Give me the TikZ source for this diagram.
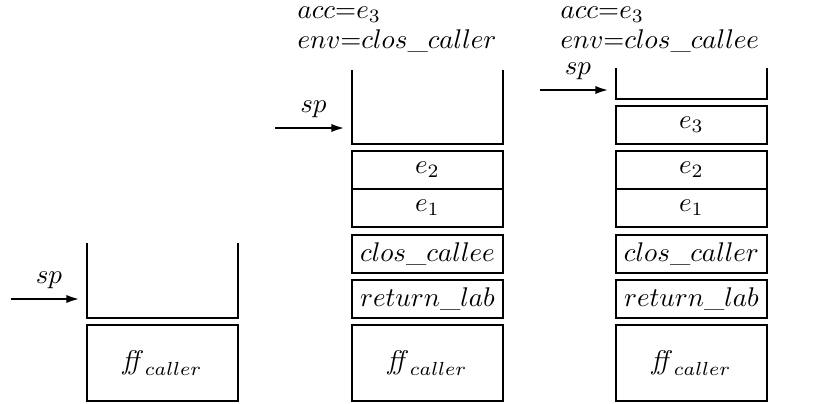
\documentclass[tikz,border=0pt]{standalone}
\usepackage{amsmath}
\usetikzlibrary{arrows.meta}

\begin{document}
\begin{tikzpicture}[
  x=0.37pt,
  y=-0.37pt,
  every node/.style={font=\normalsize},
  slot/.style={
    draw,
    line width=0.9pt,
    inner sep=0pt,
    outer sep=0pt,
    minimum width=55.9pt,
    minimum height=14.06pt
  },
  frame/.style={slot, minimum height=28.1pt},
  hole/.style={
    inner sep=0pt,
    outer sep=0pt,
    minimum width=55.9pt
  },
  wall/.style={line width=0.9pt},
  ptr/.style={line width=0.9pt, -{Latex[length=5pt,width=3pt]}, shorten >=2.6pt},
  regtext/.style={anchor=west}
]
  \useasboundingbox (0,0) rectangle (837,404);

  % first stack
  \node[hole, minimum height=27.75pt] (o1) at (162.5,280.5) {};
  \node[frame] (ff1) at (162.5,363) {$\mathit{ff}_{caller}$};
  \draw[wall] (o1.north west) -- (o1.south west) -- (o1.south east) -- (o1.north east);
  \coordinate (p1) at (11,299);
  \draw[ptr] (p1) -- (p1 -| o1.west) node[midway, above] {$sp$};

  % second stack
  \node[regtext] (acc2) at (288,15) {$acc{=}e_3$};
  \node[regtext] (env2) at (288,41) {$env{=}clos\_caller$};
  \node[hole, minimum height=27.4pt] (o2) at (427.5,107) {};
  \node[slot] (e22) at (427.5,170) {$e_2$};
  \node[slot] (e12) at (427.5,208) {$e_1$};
  \node[slot] (clos2) at (427.5,254) {$clos\_callee$};
  \node[slot] (ret2) at (427.5,299) {$return\_lab$};
  \node[frame] (ff2) at (427.5,363) {$\mathit{ff}_{caller}$};
  \draw[wall] (o2.north west) -- (o2.south west) -- (o2.south east) -- (o2.north east);
  \coordinate (p2) at (275,128);
  \draw[ptr] (p2) -- (p2 -| o2.west) node[midway, above] {$sp$};

  % third stack
  \node[regtext] (acc3) at (551,15) {$acc{=}e_3$};
  \node[regtext] (env3) at (551,41) {$env{=}clos\_callee$};
  \node[hole, minimum height=11.5pt] (o3) at (691.5,83.5) {};
  \node[slot] (e33) at (691.5,125) {$e_3$};
  \node[slot] (e23) at (691.5,170) {$e_2$};
  \node[slot] (e13) at (691.5,208) {$e_1$};
  \node[slot] (clos3) at (691.5,254) {$clos\_caller$};
  \node[slot] (ret3) at (691.5,299) {$return\_lab$};
  \node[frame] (ff3) at (691.5,363) {$\mathit{ff}_{caller}$};
  \draw[wall] (o3.north west) -- (o3.south west) -- (o3.south east) -- (o3.north east);
  \coordinate (p3) at (540,90);
  \draw[ptr] (p3) -- (p3 -| o3.west) node[midway, above] {$sp$};
\end{tikzpicture}
\end{document}
